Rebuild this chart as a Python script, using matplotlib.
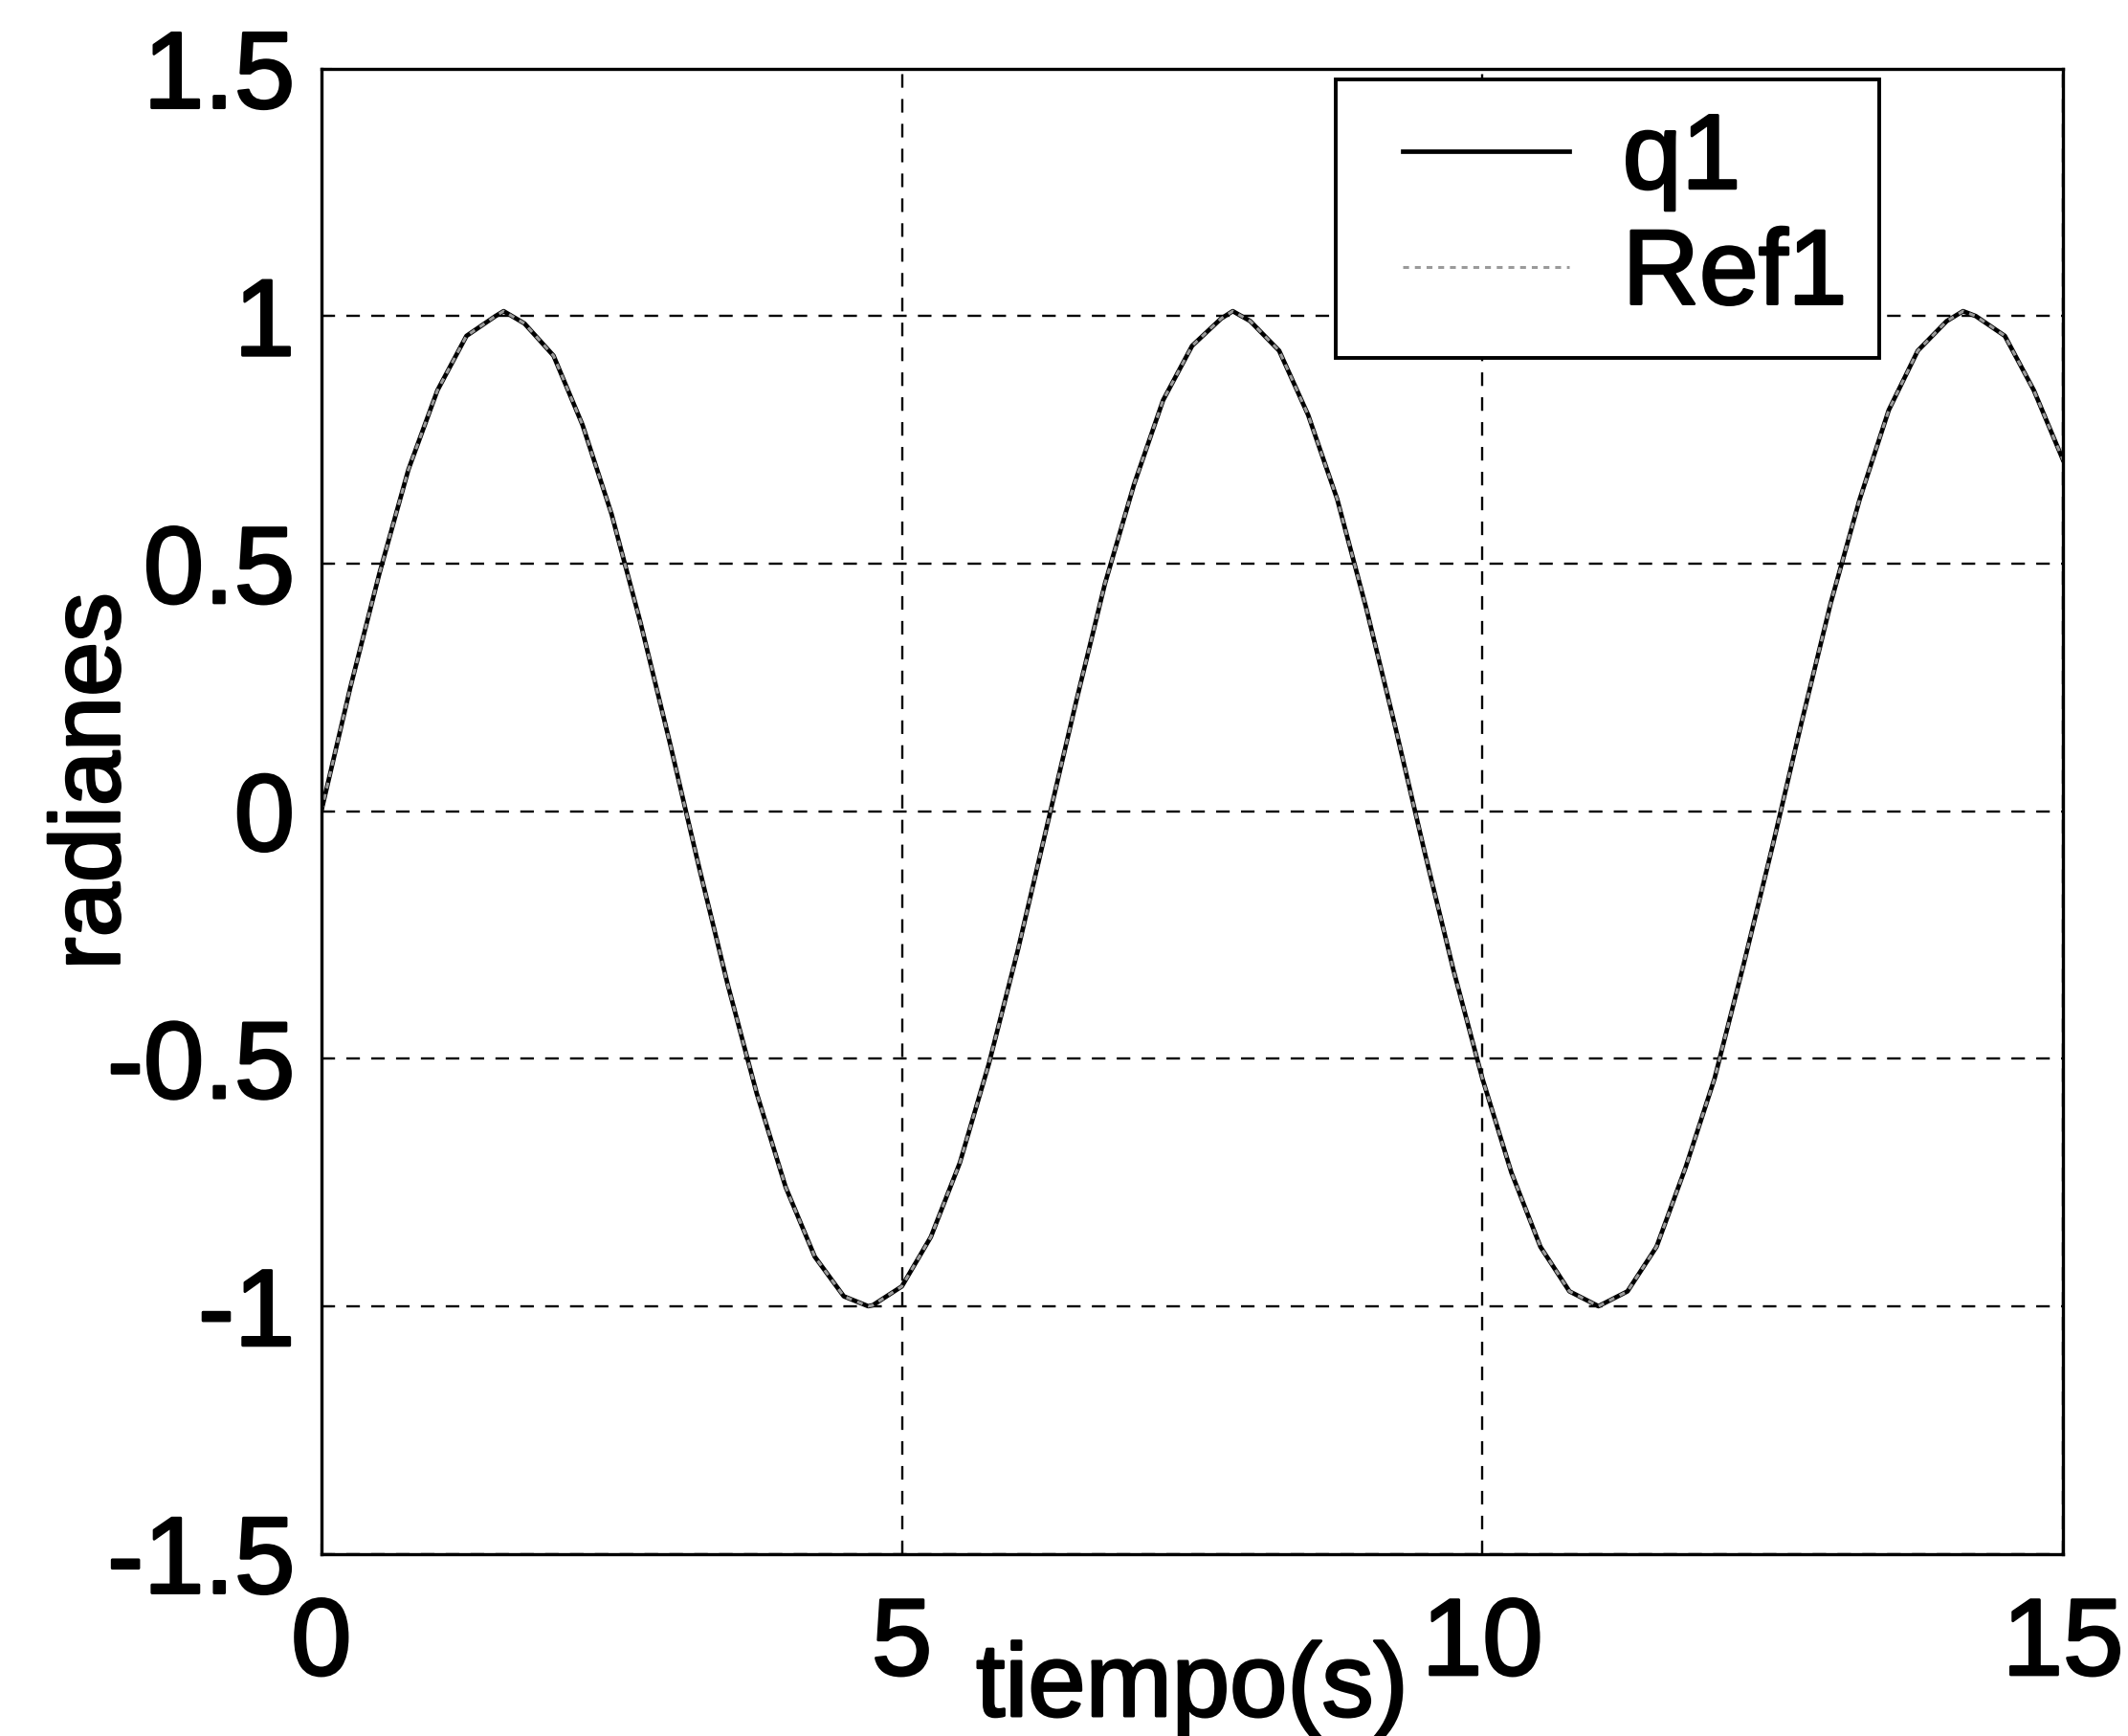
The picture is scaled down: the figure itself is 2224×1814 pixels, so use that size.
import matplotlib.pyplot as plt
import matplotlib.patheffects as pe
from matplotlib.legend_handler import HandlerLine2D

# time axis (s) and joint angle q1 vs. its reference (rad)
tiempo = [0.0, 0.25, 0.5, 0.75, 1.0, 1.25, 1.5, 1.57, 1.75, 2.0, 2.25,
          2.5, 2.75, 3.0, 3.25, 3.5, 3.75, 4.0, 4.25, 4.5, 4.71, 4.75,
          5.0, 5.25, 5.5, 5.75, 6.0, 6.25, 6.5, 6.75, 7.0, 7.25,
          7.5, 7.75, 7.85, 8.0, 8.25, 8.5, 8.75, 9.0, 9.25, 9.5, 9.75,
          10.0, 10.25, 10.5, 10.75, 11.0, 11.25, 11.5, 11.75, 12.0, 12.25,
          12.5, 12.75, 13.0, 13.25, 13.5, 13.75, 14.0, 14.14, 14.25, 14.5,
          14.75, 15.0]
q1 = [0.0, 0.25, 0.48, 0.69, 0.85, 0.96, 1.0, 1.01, 0.985, 0.92, 0.78,
      0.60, 0.38, 0.14, -0.11, -0.35, -0.57, -0.76, -0.90, -0.98, -1.0, -0.998,
      -0.96, -0.86, -0.71, -0.51, -0.28, -0.03, 0.22, 0.46, 0.66, 0.83,
      0.94, 0.995, 1.01, 0.99, 0.93, 0.80, 0.63, 0.41, 0.17, -0.08, -0.32,
      -0.54, -0.73, -0.88, -0.97, -1.0, -0.97, -0.88, -0.72, -0.54, -0.31,
      -0.07, 0.18, 0.42, 0.63, 0.81, 0.93, 0.99, 1.01, 1.0, 0.96,
      0.85, 0.71]
ref1 = list(q1)

xticks = [0, 5, 10, 15]
yticks = [-1.5, -1, -0.5, 0, 0.5, 1, 1.5]
yticklabels = ['-1.5', '-1', '-0.5', '0', '0.5', '1', '1.5']

plt.rcParams['font.family'] = ['Liberation Sans', 'DejaVu Sans']
# slightly heavier glyphs, the printed figure has thick type
thick = [pe.withStroke(linewidth=2.0, foreground='black')]

fig = plt.figure(figsize=(22.24, 18.14), dpi=100)
ax = fig.add_axes([0.151, 0.105, 0.8184, 0.8555])

ax.plot(tiempo, q1, color='black', linewidth=3.4, label='q1',
        solid_joinstyle='round')
ax.plot(tiempo, ref1, color='#9a9a9a', linewidth=2.2,
        linestyle=(0, (2, 2)), label='Ref1')

ax.set_xlim(0, 15)
ax.set_ylim(-1.5, 1.5)
ax.set_xticks(xticks)
ax.set_yticks(yticks)
ax.set_yticklabels(yticklabels)

#dashed grid like the old matlab figures
ax.grid(True, color='black', linewidth=1.7, linestyle=(0, (6, 5)))
for s in ax.spines.values():
    s.set_linewidth(2.4)
ax.tick_params(direction='in', length=8, width=1.5, labelsize=82)
ax.tick_params(axis='x', pad=32)
ax.tick_params(axis='y', pad=20)
for lbl in ax.get_xticklabels() + ax.get_yticklabels():
    lbl.set_path_effects(thick)

ax.set_xlabel('tiempo(s)', fontsize=78, path_effects=thick)
ax.xaxis.set_label_coords(0.5, -0.059)
ax.set_ylabel('radianes', fontsize=74, path_effects=thick)
ax.yaxis.set_label_coords(-0.104, 0.52)

leg = ax.legend(loc='upper right', bbox_to_anchor=(0.8945, 0.993),
                borderaxespad=0, fontsize=80, frameon=True, fancybox=False,
                handlelength=1.9, handletextpad=0.5, labelspacing=0.15,
                borderpad=0.3,
                handler_map={plt.Line2D: HandlerLine2D(xpad=0.33)})
leg.get_frame().set_edgecolor('black')
leg.get_frame().set_linewidth(2.8)
leg.get_frame().set_alpha(1)
for t in leg.get_texts():
    t.set_path_effects(thick)

fig.savefig('out.png', dpi=100)
